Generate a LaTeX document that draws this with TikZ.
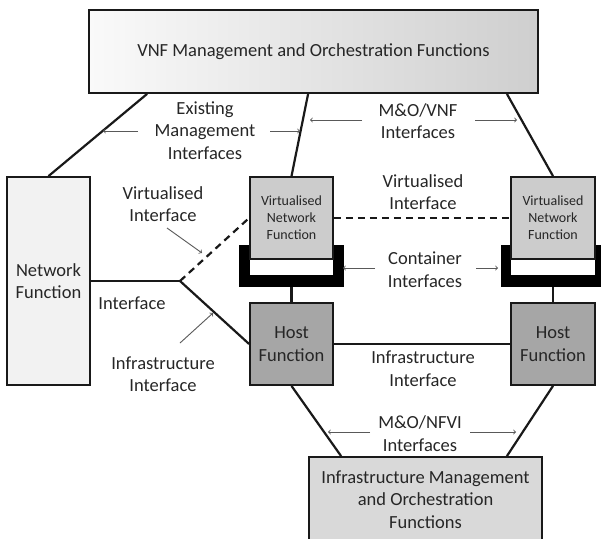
\documentclass[tikz,border=0pt]{standalone}
\usepackage{fontspec}
\setmainfont{Carlito}
\usepackage{tikz}
\usetikzlibrary{positioning, calc}

\begin{document}
\begin{tikzpicture}[x=1pt, y=-1pt,
 big/.style={font=\fontsize{18.5}{22.5}\selectfont},
 small/.style={font=\fontsize{14}{17}\selectfont},
 box/.style={draw=black!90, line width=1.8pt, align=center, inner sep=0pt, text=black!85},
 lbl/.style={big, align=center, inner sep=0pt, text=black!85},
 link/.style={line width=2.2pt, black!90},
 arr/.style={->, black!65, line width=0.9pt},
 holder/.style={fill=black, minimum width=105pt, minimum height=42pt, inner sep=0pt}]
\useasboundingbox (0,0) rectangle (601,538);

\node [box, big, minimum width=449pt, minimum height=83pt, left color=black!2, right color=black!19] (VNFM) at (313.5,51.5) {VNF Management and Orchestration Functions};
\node [box, big, minimum width=83pt, minimum height=208pt, fill=black!5] (NF) at (48.5,281) {Network\\Function};

\node [holder] (CA) at (291.5,266) {};
\node [holder] (CB) at (553,266) {};
\fill [white] (250,245) rectangle (333,275);
\fill [white] (511,245) rectangle (595,275);

\node [box, small, minimum width=83pt, minimum height=82pt, fill=black!20] (VA) at (291.5,218) {Virtualised\\Network\\Function};
\node [box, small, minimum width=84pt, minimum height=82pt, fill=black!20] (VB) at (553,218) {Virtualised\\Network\\Function};
\node [box, big, minimum width=83pt, minimum height=82pt, fill=black!35] (HA) at (291.5,344) {Host\\Function};
\node [box, big, minimum width=84pt, minimum height=82pt, fill=black!35] (HB) at (553,344) {Host\\Function};
\node [box, big, minimum width=233pt, minimum height=85pt, fill=black!15] (IMO) at (425.5,499.5) {Infrastructure Management\\and Orchestration\\Functions};

\coordinate (BR) at (180,281);

\draw [link] ([xshift=59pt]VNFM.south west) -- (NF.north);
\draw [link] ([xshift=220pt]VNFM.south west) -- (VA.north);
\draw [link] ([xshift=-32pt]VNFM.south east) -- (VB.north);
\draw [link] (NF.east |- BR) -- (BR);
\draw [link] (BR) -- (HA.west);
\draw [link, dash pattern=on 7pt off 5pt] (BR) -- (VA.west);
\draw [link, dash pattern=on 7pt off 5pt] (VA.east) -- (VB.west);
\draw [link] (CA.south) -- (HA.north);
\draw [link] (CB.south) -- (HB.north);
\draw [link] (HA.east) -- (HB.west);
\draw [link] (HA.south) -- ([xshift=33pt]IMO.north west);
\draw [link] (HB.south) -- ([xshift=-36pt]IMO.north east);

\node [lbl] (EMI) at (205,130.5) {Existing\\Management\\Interfaces};
\node [lbl] (MOV) at (418,121) {M\&O/VNF\\Interfaces};
\node [lbl] (VI) at (163,204) {Virtualised\\Interface};
\node [lbl] (IF) at (132,303) {Interface};
\node [lbl] (II) at (163,374) {Infrastructure\\Interface};
\node [lbl] (VII) at (423,192) {Virtualised\\Interface};
\node [lbl] (CI) at (425,269.5) {Container\\Interfaces};
\node [lbl] (III) at (423,368.5) {Infrastructure\\Interface};
\node [lbl] (MON) at (420,433.5) {M\&O/NFVI\\Interfaces};

\draw [arr] (138,131) -- (103,131);
\draw [arr] (270,131) -- (300,131);
\draw [arr] (362,120) -- (310,120);
\draw [arr] (475,120) -- (517,120);
\draw [arr] (167,228) -- (202,253);
\draw [arr] (180,343) -- (213,313);
\draw [arr] (375,268) -- (343,268);
\draw [arr] (476,268) -- (498,268);
\draw [arr] (370,432) -- (328,432);
\draw [arr] (470,432) -- (516,432);
\end{tikzpicture}
\end{document}
